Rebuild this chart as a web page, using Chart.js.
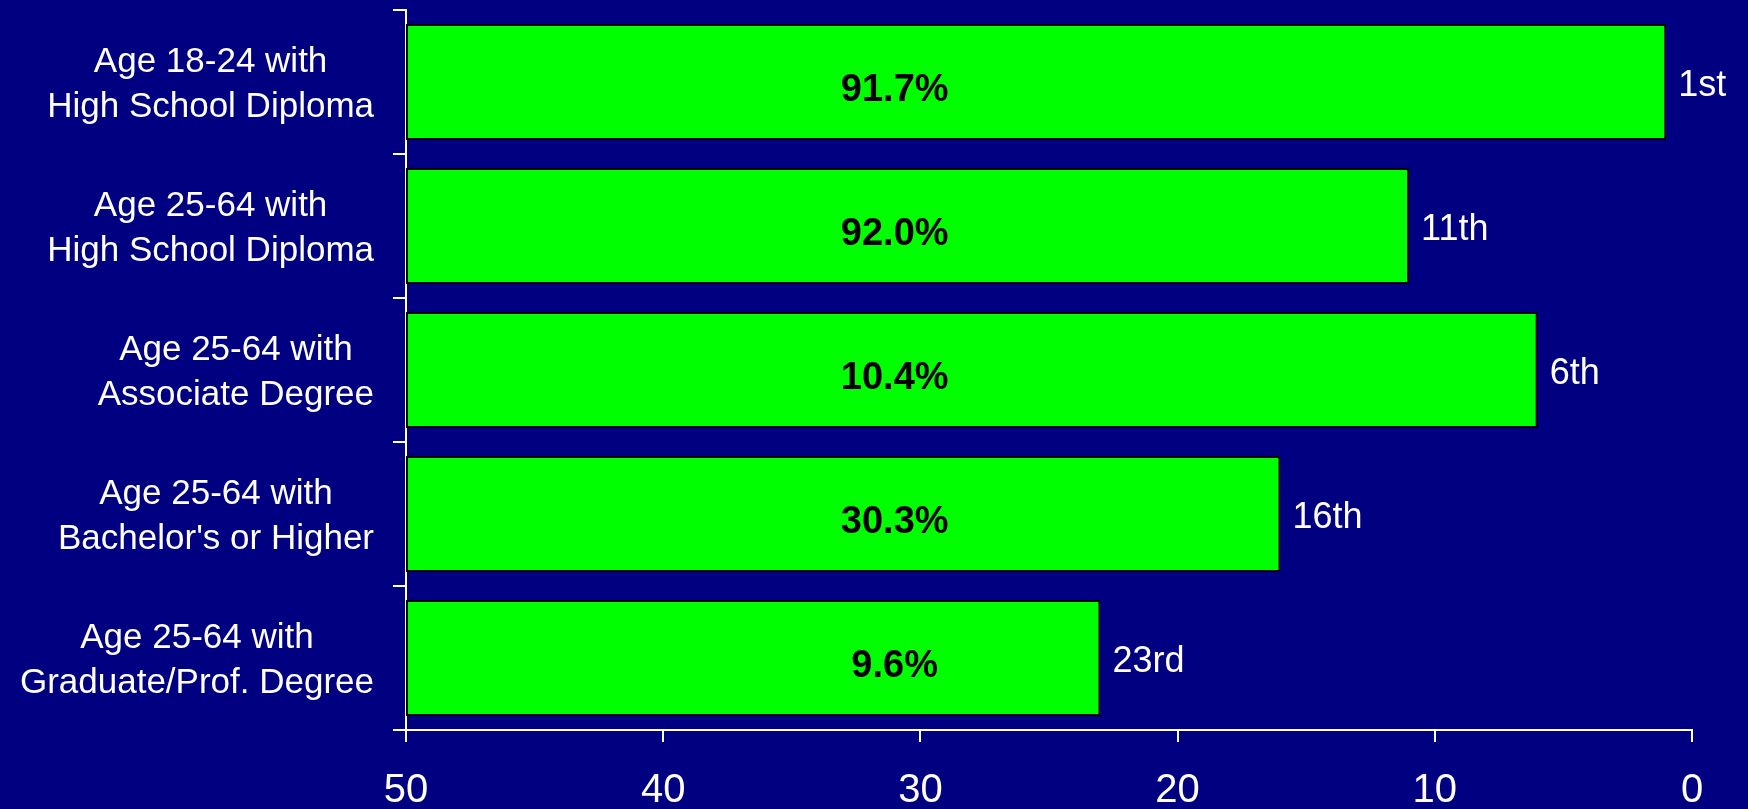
<!DOCTYPE html>
<html>
<head>
<meta charset="utf-8">
<script src="https://cdn.jsdelivr.net/npm/chart.js@4/dist/chart.umd.min.js"></script>
<style>
  html, body { margin: 0; padding: 0; background: #000080; }
  #wrap { width: 1748px; height: 809px; }
</style>
</head>
<body>
<div id="wrap"><canvas id="myChart"></canvas></div>
<script>
var categories = [
  ["Age 18-24 with", "High School Diploma"],
  ["Age 25-64 with", "High School Diploma"],
  ["Age 25-64 with", "Associate Degree"],
  ["Age 25-64 with", "Bachelor's or Higher"],
  ["Age 25-64 with", "Graduate/Prof. Degree"]
];
var ranks = [1, 11, 6, 16, 23];
var percents = [91.7, 92.0, 10.4, 30.3, 9.6];
var xTicks = [50, 40, 30, 20, 10, 0];

var FONT = '"Liberation Sans", Arial, sans-serif';

function ordinal(n) {
  var s = 'th';
  if (n % 100 < 11 || n % 100 > 13) {
    if (n % 10 == 1) s = 'st';
    else if (n % 10 == 2) s = 'nd';
    else if (n % 10 == 3) s = 'rd';
  }
  return n + s;
}

// category labels (centred lines, block right-aligned), percents and ranks
var textPlugin = {
  id: 'texts',
  afterDraw: function(chart) {
    var ctx = chart.ctx;
    var xs = chart.scales.x, ys = chart.scales.y;
    ctx.save();
    ctx.textBaseline = 'alphabetic';

    ctx.font = '35px ' + FONT;
    ctx.fillStyle = '#ffffff';
    ctx.textAlign = 'center';
    categories.forEach(function(lines, i) {
      var cy = ys.getPixelForValue(i);
      var w = Math.max.apply(null, lines.map(function(l) { return ctx.measureText(l).width; }));
      var cx = ys.right - 32 - w / 2;
      ctx.fillText(lines[0], cx, cy - 10);
      ctx.fillText(lines[1], cx, cy + 35);
    });

    ctx.font = 'bold 38px ' + FONT;
    ctx.fillStyle = '#000000';
    percents.forEach(function(p, i) {
      ctx.fillText(p.toFixed(1) + '%', xs.getPixelForValue(31), ys.getPixelForValue(i) + 19);
    });

    ctx.font = '36px ' + FONT;
    ctx.fillStyle = '#ffffff';
    ctx.textAlign = 'left';
    ranks.forEach(function(r, i) {
      ctx.fillText(ordinal(r), xs.getPixelForValue(r) + 12, ys.getPixelForValue(i) + 14);
    });
    ctx.restore();
  }
};

var ctx = document.getElementById('myChart').getContext('2d');
var myChart = new Chart(ctx, {
  type: 'bar',
  plugins: [textPlugin],
  data: {
    labels: categories,
    datasets: [{
      data: ranks.map(function(r) { return [r, 50]; }),
      backgroundColor: '#00ff00',
      borderColor: '#000000',
      borderWidth: 2,
      borderSkipped: false,
      barPercentage: 0.806,
      categoryPercentage: 1.0
    }]
  },
  options: {
    indexAxis: 'y',
    responsive: true,
    maintainAspectRatio: false,
    animation: false,
    layout: { padding: { top: 10, right: 56, bottom: 0, left: 0 } },
    plugins: {
      legend: { display: false },
      tooltip: { enabled: false }
    },
    scales: {
      x: {
        type: 'linear',
        min: 0,
        max: 50,
        reverse: true,
        afterBuildTicks: function(s) {
          s.ticks = xTicks.map(function(v) { return { value: v }; });
        },
        afterFit: function(s) { s.height = 79; },
        grid: { drawOnChartArea: false, color: '#ffffff', lineWidth: 2, tickLength: 12 },
        border: { color: '#ffffff', width: 2 },
        ticks: { color: '#ffffff', font: { family: FONT, size: 40 }, padding: 25, maxRotation: 0 }
      },
      y: {
        grid: { drawOnChartArea: false, color: '#ffffff', lineWidth: 2, tickLength: 13, offset: true },
        border: { color: '#ffffff', width: 2 },
        ticks: { display: false },
        afterFit: function(s) { s.width = 406; }
      }
    }
  }
});
</script>
</body>
</html>
